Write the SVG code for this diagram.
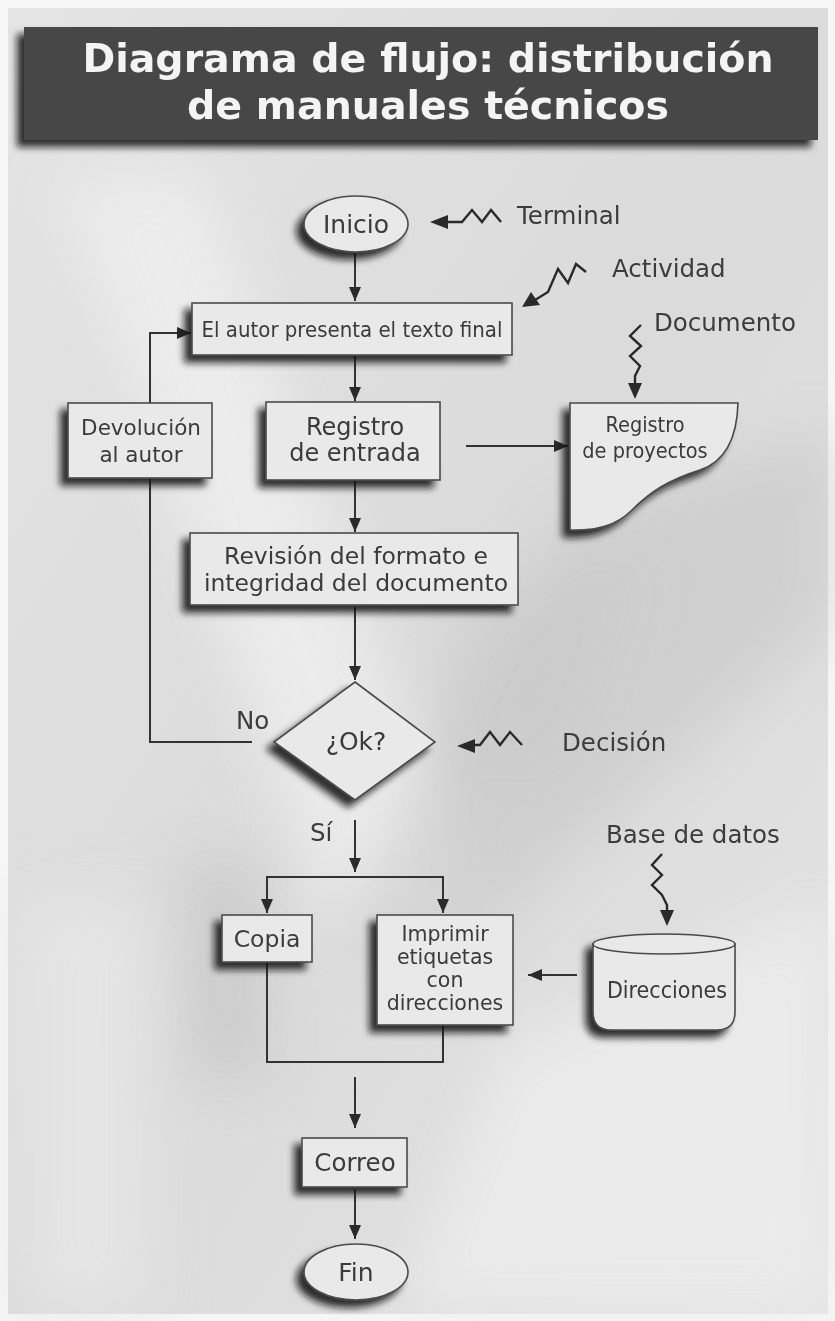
<svg xmlns="http://www.w3.org/2000/svg" width="835" height="1321" viewBox="0 0 835 1321">
  <defs>
    <style>
      .box { fill: #e9e9e9; stroke: #4a4a4a; stroke-width: 1.6; }
      .lbl { font-family: "DejaVu Sans", Verdana, sans-serif; fill: #3a3a3a; text-anchor: middle; }
      .cond { font-family: "DejaVu Sans Condensed", "DejaVu Sans", sans-serif; fill: #3a3a3a; text-anchor: middle; }
      .note { font-family: "DejaVu Sans", Verdana, sans-serif; fill: #3c3c3c; font-size: 24.5px; }
      .wire { fill: none; stroke: #333; stroke-width: 2; }
      .zig { fill: none; stroke: #2a2a2a; stroke-width: 2.4; stroke-linejoin: miter; }
      .title { font-family: "DejaVu Sans", Verdana, sans-serif; font-weight: bold; fill: #f4f4f4; text-anchor: middle; font-size: 39.5px; }
    </style>
    <marker id="arr" viewBox="0 0 14 12" refX="14" refY="6" markerWidth="14" markerHeight="12" markerUnits="userSpaceOnUse" orient="auto">
      <path d="M0,0 L14,6 L0,12 z" fill="#2a2a2a"/>
    </marker>
    <filter id="shadow" x="-20%" y="-20%" width="140%" height="150%">
      <feGaussianBlur in="SourceAlpha" stdDeviation="3.5"/>
      <feOffset dx="-7" dy="7" result="b"/>
      <feFlood flood-color="#111" flood-opacity="0.85"/>
      <feComposite in2="b" operator="in"/>
      <feMerge><feMergeNode/><feMergeNode in="SourceGraphic"/></feMerge>
    </filter>
    <filter id="soft" x="-30%" y="-30%" width="160%" height="160%">
      <feGaussianBlur stdDeviation="30"/>
    </filter>
    <linearGradient id="bg" x1="0" y1="0" x2="1" y2="1">
      <stop offset="0" stop-color="#e4e4e4"/>
      <stop offset="0.5" stop-color="#dbdbdb"/>
      <stop offset="1" stop-color="#e3e3e3"/>
    </linearGradient>
  </defs>

  <!-- paper and light streaks -->
  <rect x="0" y="0" width="835" height="1321" fill="#f6f6f6"/>
  <rect x="8" y="8" width="820" height="1306" fill="url(#bg)"/>
  <g filter="url(#soft)" opacity="0.85">
    <polygon points="60,180 200,170 470,900 340,960" fill="#eeeeee"/>
    <polygon points="560,520 835,430 835,620 430,980 330,940" fill="#bdbdbd" opacity="0.5"/>
    <polygon points="180,860 260,860 270,1080 190,1080" fill="#b8b8b8" opacity="0.5"/>
    <polygon points="460,600 640,560 560,780 420,760" fill="#c4c4c4" opacity="0.45"/>
    <polygon points="500,1050 835,900 835,1313 400,1313" fill="#ececec"/>
    <polygon points="20,900 150,900 150,1313 20,1313" fill="#e6e6e6"/>
  </g>

  <!-- title banner -->
  <g id="title">
    <rect x="24" y="27" width="794" height="113" fill="#474747" filter="url(#shadow)"/>
    <text class="title" x="428" y="72">Diagrama de flujo: distribución</text>
    <text class="title" x="428" y="119">de manuales técnicos</text>
  </g>

  <!-- connectors -->
  <g id="connectors">
    <line class="wire" x1="355" y1="253" x2="355" y2="301" marker-end="url(#arr)"/>
    <line class="wire" x1="355" y1="356" x2="355" y2="401" marker-end="url(#arr)"/>
    <line class="wire" x1="466" y1="446" x2="568" y2="446" marker-end="url(#arr)"/>
    <line class="wire" x1="355" y1="481" x2="355" y2="532" marker-end="url(#arr)"/>
    <line class="wire" x1="355" y1="607" x2="355" y2="680" marker-end="url(#arr)"/>
    <polyline class="wire" points="252,742 150,742 150,333 191,333" marker-end="url(#arr)"/>
    <line class="wire" x1="355" y1="820" x2="355" y2="872" marker-end="url(#arr)"/>
    <polyline class="wire" points="267,900 267,877 443,877 443,900"/>
    <line class="wire" x1="267" y1="890" x2="267" y2="913" marker-end="url(#arr)"/>
    <line class="wire" x1="443" y1="890" x2="443" y2="913" marker-end="url(#arr)"/>
    <line class="wire" x1="577" y1="975" x2="528" y2="975" marker-end="url(#arr)"/>
    <polyline class="wire" points="267,962 267,1062 443,1062 443,1025"/>
    <line class="wire" x1="355" y1="1077" x2="355" y2="1128" marker-end="url(#arr)"/>
    <line class="wire" x1="355" y1="1190" x2="355" y2="1239" marker-end="url(#arr)"/>
  </g>

  <!-- nodes -->
  <g id="inicio" filter="url(#shadow)">
    <ellipse cx="356" cy="224" rx="52" ry="28" class="box"/>
    <text class="lbl" x="356" y="233" font-size="25">Inicio</text>
  </g>
  <g id="autor" filter="url(#shadow)">
    <rect x="192" y="303" width="320" height="52" class="box"/>
    <text class="cond" x="352" y="337" font-size="22">El autor presenta el texto final</text>
  </g>
  <g id="devolucion" filter="url(#shadow)">
    <rect x="68" y="403" width="144" height="75" class="box"/>
    <text class="lbl" x="141" y="435" font-size="21.5">Devolución</text>
    <text class="lbl" x="141" y="462" font-size="21.5">al autor</text>
  </g>
  <g id="registro" filter="url(#shadow)">
    <rect x="266" y="402" width="174" height="78" class="box"/>
    <text class="lbl" x="355" y="435" font-size="24">Registro</text>
    <text class="lbl" x="355" y="461" font-size="24">de entrada</text>
  </g>
  <g id="proyectos" filter="url(#shadow)">
    <path class="box" d="M570,403 H738 C737,440 724,462 700,470 C668,480 650,492 632,510 C616,526 596,531 570,530 Z"/>
    <text class="cond" x="645" y="432" font-size="21.5">Registro</text>
    <text class="cond" x="645" y="458" font-size="21.5">de proyectos</text>
  </g>
  <g id="revision" filter="url(#shadow)">
    <rect x="190" y="533" width="328" height="72" class="box"/>
    <text class="lbl" x="356" y="564" font-size="23.5">Revisión del formato e</text>
    <text class="lbl" x="356" y="591" font-size="23.5">integridad del documento</text>
  </g>
  <g id="ok" filter="url(#shadow)">
    <polygon class="box" points="355,682 435,742 355,800 274,742"/>
    <text class="lbl" x="356" y="750" font-size="25">¿Ok?</text>
  </g>
  <g id="copia" filter="url(#shadow)">
    <rect x="222" y="915" width="90" height="47" class="box"/>
    <text class="lbl" x="267" y="947" font-size="23.5">Copia</text>
  </g>
  <g id="imprimir" filter="url(#shadow)">
    <rect x="377" y="915" width="136" height="110" class="box"/>
    <text class="lbl" x="445" y="941" font-size="20.5">Imprimir</text>
    <text class="lbl" x="445" y="964" font-size="20.5">etiquetas</text>
    <text class="lbl" x="445" y="987" font-size="20.5">con</text>
    <text class="lbl" x="445" y="1010" font-size="20.5">direcciones</text>
  </g>
  <g id="direcciones" filter="url(#shadow)">
    <path class="box" d="M593,944 V1012 Q593,1030 611,1030 H717 Q735,1030 735,1012 V944 Z"/>
    <ellipse class="box" cx="664" cy="944" rx="71" ry="10"/>
    <text class="cond" x="667" y="998" font-size="23">Direcciones</text>
  </g>
  <g id="correo" filter="url(#shadow)">
    <rect x="302" y="1138" width="105" height="49" class="box"/>
    <text class="lbl" x="355" y="1171" font-size="24.5">Correo</text>
  </g>
  <g id="fin" filter="url(#shadow)">
    <ellipse cx="356" cy="1272" rx="52" ry="28" class="box"/>
    <text class="lbl" x="356" y="1281" font-size="25">Fin</text>
  </g>

  <!-- flow labels -->
  <g id="branch-labels">
    <text class="note" x="236" y="729">No</text>
    <text class="note" x="310" y="841">Sí</text>
  </g>

  <!-- legend pointers -->
  <g id="legend">
    <polyline class="zig" points="446,222 462,222 472,210 482,222 491,210 501,222"/>
    <path d="M430,222 L448,215 L448,229 z" fill="#2a2a2a"/>
    <text class="note" x="517" y="224">Terminal</text>

    <polyline class="zig" points="586,272 576,264 568,283 558,269 548,292 535,300"/>
    <path d="M522,307 L531,292 L540,305 z" fill="#2a2a2a"/>
    <text class="note" x="612" y="277">Actividad</text>

    <polyline class="zig" points="641,325 630,336 641,346 630,356 640,366 635,376 635,385"/>
    <path d="M635,399 L628,383 L642,383 z" fill="#2a2a2a"/>
    <text class="note" x="654" y="331">Documento</text>

    <polyline class="zig" points="472,745 480,745 490,732 500,745 510,732 522,745"/>
    <path d="M457,746 L475,739 L475,753 z" fill="#2a2a2a"/>
    <text class="note" x="562" y="751">Decisión</text>

    <polyline class="zig" points="662,854 652,865 662,875 652,885 662,895 667,905 667,912"/>
    <path d="M667,926 L660,910 L674,910 z" fill="#2a2a2a"/>
    <text class="note" x="606" y="843">Base de datos</text>
  </g>
</svg>
